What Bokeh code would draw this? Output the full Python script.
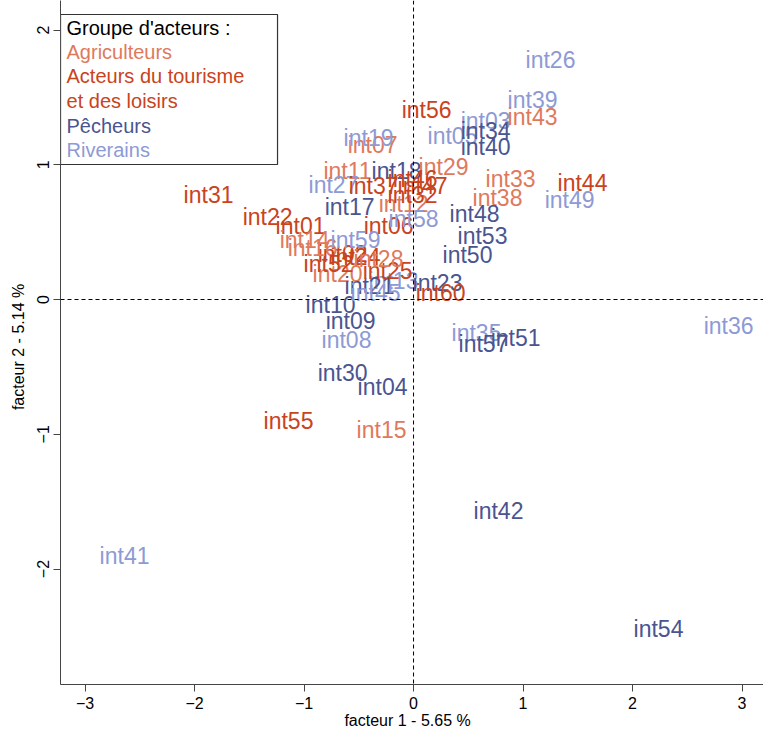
from bokeh.plotting import figure
from bokeh.models import Range1d, FixedTicker, Span, BoxAnnotation, ColumnDataSource
from bokeh.core.properties import value
from bokeh.embed import file_html
from bokeh.resources import INLINE

# ---------------- data ----------------
labels = ["int%02d" % i for i in range(1, 61)]

fact1 = [-1.032, -0.648, 0.658, -0.283, 0.356, -0.228, -0.374, -0.612, -0.575, -0.758,
         -0.603, -0.091, -0.183, -0.995, -0.292, -0.922, -0.584, -0.155, -0.411, -0.694,
         -0.402, -1.333, 0.219, -0.530, -0.237, 1.251, -0.731, -0.320, 0.274, -0.648,
         -1.872, -0.009, 0.886, 0.658, 0.575, 2.877, -0.365, 0.767, 1.087, 0.658,
         -2.639, 0.776, 1.087, 1.543, -0.347, -0.009, 0.082, 0.557, 1.425, 0.493,
         0.932, -0.776, 0.630, 2.237, -1.142, 0.119, 0.639, 0.000, -0.530, 0.247]

fact2 = [0.542, 0.341, 1.328, -0.646, 1.210, 0.542, 1.150, -0.304, -0.163, -0.037,
         0.957, 0.712, 0.141, 0.445, -0.972, 0.386, 0.683, 0.957, 1.202, 0.193,
         0.104, 0.616, 0.119, 0.312, 0.208, 1.774, 0.853, 0.297, 0.980, -0.549,
         0.779, 0.772, 0.898, 1.254, -0.245, -0.200, 0.839, 0.750, 1.484, 1.135,
         -1.907, -1.566, 1.358, 0.861, 0.052, 0.898, 0.839, 0.631, 0.735, 0.334,
         -0.282, 0.267, 0.468, -2.442, -0.898, 1.403, -0.327, 0.594, 0.438, 0.045]

A, T, P, R = "Agriculteurs", "Tourisme", "Pêcheurs", "Riverains"
groupe = [T, T, R, P, R, T, A, R, P, P,
          A, A, R, A, A, A, P, P, R, A,
          P, T, P, T, T, R, R, A, A, P,
          T, T, A, P, R, R, T, A, R, P,
          R, P, A, T, R, T, T, P, R, P,
          P, T, P, P, T, T, P, R, R, T]

group_keys = [A, T, P, R]
group_colors = ["#E0795C", "#C9431C", "#4A5590", "#8D9AD5"]
legend_title = "Groupe d'acteurs :"
legend_lines = ["Agriculteurs", "Acteurs du tourisme", "et des loisirs", "Pêcheurs", "Riverains"]
legend_line_colors = [group_colors[0], group_colors[1], group_colors[1], group_colors[2], group_colors[3]]

xlabel = "facteur  1  - 5.65 %"
ylabel = "facteur  2  - 5.14 %"
xticks = [-3, -2, -1, 0, 1, 2, 3]
yticks = [-2, -1, 0, 1, 2]

# ---------------- figure ----------------
FONT = "Liberation Sans"
p = figure(width=763, height=731, output_backend="svg", toolbar_location=None,
           x_range=Range1d(-3.224, 3.196), y_range=Range1d(-2.857, 2.219),
           min_border_left=60, min_border_right=0, min_border_top=0, min_border_bottom=47)
p.outline_line_color = None
p.grid.visible = False
p.background_fill_color = "white"

for ax in (p.xaxis[0], p.yaxis[0]):
    ax.axis_line_color = "#444444"
    ax.major_tick_line_color = "#444444"
    ax.major_tick_out = 7
    ax.major_tick_in = 0
    ax.minor_tick_line_color = None
    ax.major_label_text_font = FONT
    ax.major_label_text_font_size = "16px"
    ax.major_label_text_color = "black"
    ax.axis_label_text_font = FONT
    ax.axis_label_text_font_size = "16px"
    ax.axis_label_text_font_style = "normal"
    ax.axis_label_text_color = "black"

p.xaxis.ticker = FixedTicker(ticks=xticks)
p.yaxis.ticker = FixedTicker(ticks=yticks)
p.xaxis.major_label_standoff = 5
p.xaxis.axis_label_standoff = 0
p.yaxis.major_label_standoff = 4
p.yaxis.axis_label_standoff = 8
p.yaxis.major_label_orientation = "vertical"
p.xaxis.axis_label = xlabel
p.yaxis.axis_label = ylabel

p.add_layout(Span(location=0, dimension="height", line_color="black", line_dash="4 3", line_width=1))
p.add_layout(Span(location=0, dimension="width", line_color="black", line_dash="4 3", line_width=1))

color_of = dict(zip(group_keys, group_colors))
src = ColumnDataSource(dict(x=fact1, y=fact2, lab=labels,
                            col=[color_of[g] for g in groupe]))
p.text(x="x", y="y", text="lab", source=src, text_color="col",
       text_font=value(FONT), text_font_size="23px",
       text_align="center", text_baseline="middle")

# ---------------- legend box ----------------
def dx(px):
    return (px - 413) / 109.5

def dy(py):
    return (299 - py) / 134.75

p.add_layout(BoxAnnotation(left=dx(60), right=dx(277), top=dy(14), bottom=dy(164),
                           fill_color="white", fill_alpha=1.0,
                           line_color="#333333", line_alpha=1.0, line_width=1.2,
                           level="annotation"))
leg_y = [dy(v) for v in (51, 75, 100, 125, 149)]
p.text(x=[dx(66)], y=[dy(27)], text=[legend_title], text_color="black",
       text_font=value(FONT), text_font_size="20px",
       text_align="left", text_baseline="middle", level="overlay")
p.text(x=[dx(66)] * len(legend_lines), y=leg_y, text=legend_lines,
       text_color=legend_line_colors, text_font=value(FONT), text_font_size="20px",
       text_align="left", text_baseline="middle", level="overlay")

open("out.html", "w").write(file_html(p, INLINE))
